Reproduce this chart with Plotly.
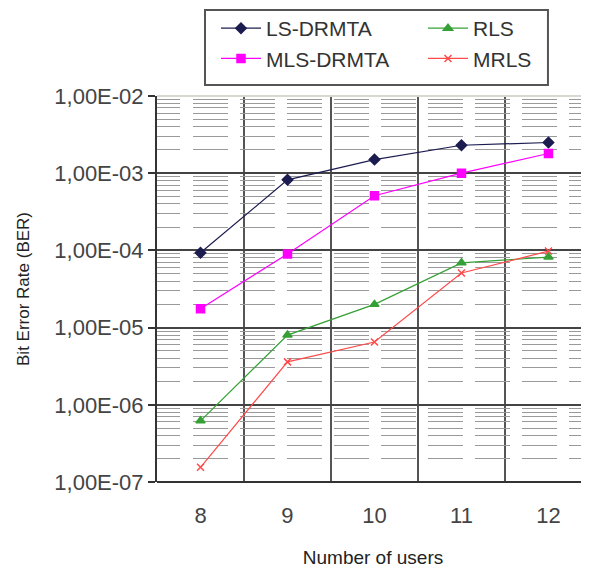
import plotly.graph_objects as go

users = [8, 9, 10, 11, 12]
ls_drmta = [9.3e-5, 8.2e-4, 1.5e-3, 2.3e-3, 2.5e-3]
mls_drmta = [1.75e-5, 9.0e-5, 5.1e-4, 1.0e-3, 1.8e-3]
rls = [6.2e-7, 8.0e-6, 2.0e-5, 6.9e-5, 8.2e-5]
mrls = [1.55e-7, 3.6e-6, 6.5e-6, 5.1e-5, 9.8e-5]

ytick_vals = [1e-7, 1e-6, 1e-5, 1e-4, 1e-3, 1e-2]
ytick_text = ["1,00E-07", "1,00E-06", "1,00E-05", "1,00E-04", "1,00E-03", "1,00E-02"]
minor_y = [m * 10.0 ** e for e in range(-7, -2) for m in range(2, 10)]
cat_bounds = [8.5, 9.5, 10.5, 11.5, 12.5]

FONT = "Arial"

fig = go.Figure()
series = [
    ("LS-DRMTA", ls_drmta, "#1c1c50", "diamond", 8),
    ("RLS", rls, "#35a035", "triangle-up", 8),
    ("MLS-DRMTA", mls_drmta, "#ff00ff", "square", 8),
    ("MRLS", mrls, "#ff4a4a", "x-thin-open", 7),
]
for name, vals, col, sym, sz in series:
    fig.add_trace(go.Scatter(
        x=users, y=vals, name=name, mode="lines+markers",
        line=dict(color=col, width=1.2),
        marker=dict(symbol=sym, size=sz, color=col, line=dict(color=col, width=1.5)),
    ))

dash = "23px,13px," + ",".join(["35px,12px"] * 12)

fig.update_layout(
    width=581, height=560,
    margin=dict(l=149, r=0, t=88, b=86),
    paper_bgcolor="white", plot_bgcolor="white",
    font=dict(family=FONT, color="#333333"),
    showlegend=True,
    legend=dict(
        xref="container", yref="container",
        x=208 / 581, y=1.0, xanchor="left", yanchor="top",
        orientation="h", entrywidth=152, itemwidth=40,
        borderwidth=0, bgcolor="rgba(0,0,0,0)",
        font=dict(size=21, color="#333333", family=FONT),
    ),
    xaxis=dict(
        range=[7.5, 12.466], tickvals=users, ticktext=[str(u) for u in users],
        showgrid=False, zeroline=False, showline=False,
        tickfont=dict(size=22, color="#444444", family=FONT), ticks="", ticklabelstandoff=18,
        minor=dict(tickvals=cat_bounds, showgrid=True, gridcolor="#555555", gridwidth=2, ticks=""),
        title=dict(text="Number of users", standoff=23,
                   font=dict(family=FONT, size=19, color="#222222")),
    ),
    yaxis=dict(
        type="log", range=[-7, -2],
        tickvals=ytick_vals, ticktext=ytick_text,
        tickfont=dict(size=22, color="#444444", family=FONT),
        ticks="outside", ticklen=7, tickcolor="#333333", tickwidth=1.5,
        showline=True, linecolor="#333333", linewidth=2,
        showgrid=True, gridcolor="#444444", gridwidth=2, zeroline=False,
        minor=dict(tickvals=minor_y, showgrid=True, gridcolor="#9a9a9a", gridwidth=1, griddash=dash, ticks=""),
        title=dict(text="Bit Error Rate (BER)", standoff=20,
                   font=dict(family=FONT, size=17, color="#222222")),
    ),
)
fig.add_shape(type="line", xref="paper", yref="paper", x0=0, x1=1, y0=1, y1=1,
              line=dict(color="#d8d8d0", width=2), layer="above")
fig.add_shape(type="line", xref="paper", yref="paper", x0=0, x1=1, y0=0, y1=0,
              line=dict(color="#333333", width=2))
fig.add_shape(type="rect", xref="paper", yref="paper",
              x0=0.1111, x1=0.905, y0=1.0285, y1=1.2228,
              line=dict(color="#555555", width=2), fillcolor="rgba(0,0,0,0)")

fig.write_html("out.html")
